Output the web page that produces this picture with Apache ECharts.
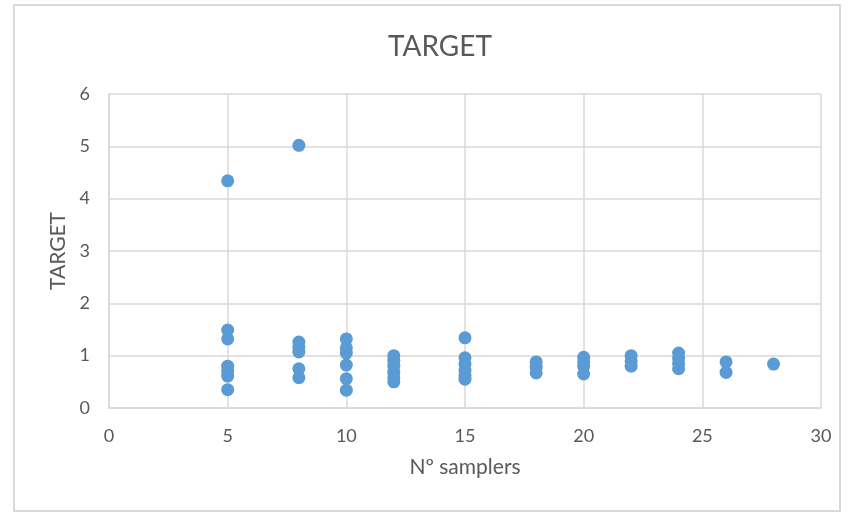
<!DOCTYPE html>
<html><head><meta charset="utf-8">
<script src="https://cdn.jsdelivr.net/npm/echarts@6/dist/echarts.min.js"></script>
<style>html,body{margin:0;padding:0;background:#fff}#c{width:854px;height:518px}</style>
</head><body><div id="c"></div>
<script>
const xTicks = [0, 5, 10, 15, 20, 25, 30];
const yTicks = [0, 1, 2, 3, 4, 5, 6];
const samplers = [5,5,5,5,5,5,5,
  8,8,8,8,8,8,
  10,10,10,10,10,10,
  12,12,12,12,12,12,
  15,15,15,15,15,15,
  18,18,18,
  20,20,20,20,
  22,22,22,
  24,24,24,24,
  26,26,
  28];
const target = [4.34,1.49,1.32,0.80,0.70,0.61,0.35,
  5.02,1.26,1.16,1.07,0.75,0.58,
  1.32,1.15,1.05,0.82,0.56,0.34,
  1.00,0.91,0.80,0.68,0.58,0.50,
  1.34,0.96,0.84,0.72,0.62,0.55,
  0.88,0.78,0.67,
  0.97,0.88,0.80,0.65,
  1.00,0.90,0.80,
  1.05,0.95,0.85,0.75,
  0.88,0.68,
  0.84];
const pts = samplers.map((s, i) => [s, target[i]]);
const chart = echarts.init(document.getElementById('c'));
const font = 'Lato, "Liberation Sans", sans-serif';
chart.setOption({
  animation: false,
  backgroundColor: '#fff',
  graphic: [{type:'rect', shape:{x:14,y:5,width:826,height:506}, style:{fill:'none', stroke:'#d9d9d9', lineWidth:2}, z:-1}],
  title: {text:'TARGET', left:435, textAlign:'center', top:28, textStyle:{fontFamily:font, fontSize:28, fontWeight:'normal', color:'#595959'}},
  grid: {left:109, right:33, top:94, bottom:110},
  xAxis: {type:'value', min:xTicks[0], max:xTicks[xTicks.length-1], interval:5,
    name:'Nº samplers', nameLocation:'middle', nameGap:49,
    nameTextStyle:{fontFamily:font, fontSize:21, color:'#595959'},
    axisLine:{show:true, lineStyle:{color:'#d9d9d9', width:1.5}}, axisTick:{show:false},
    axisLabel:{fontFamily:font, fontSize:18, color:'#595959', margin:19},
    splitLine:{show:true, lineStyle:{color:'#d9d9d9', width:1.5}}},
  yAxis: {type:'value', min:yTicks[0], max:yTicks[yTicks.length-1], interval:1,
    name:'TARGET', nameLocation:'middle', nameGap:39,
    nameTextStyle:{fontFamily:font, fontSize:21, color:'#595959'},
    axisLine:{show:true, lineStyle:{color:'#d9d9d9', width:1.5}}, axisTick:{show:false},
    axisLabel:{fontFamily:font, fontSize:18, color:'#595959', margin:19},
    splitLine:{show:true, lineStyle:{color:'#d9d9d9', width:1.5}}},
  series: [{type:'scatter', data:pts, symbolSize:13, itemStyle:{color:'#5b9bd5', opacity:1}}]
});
</script></body></html>
